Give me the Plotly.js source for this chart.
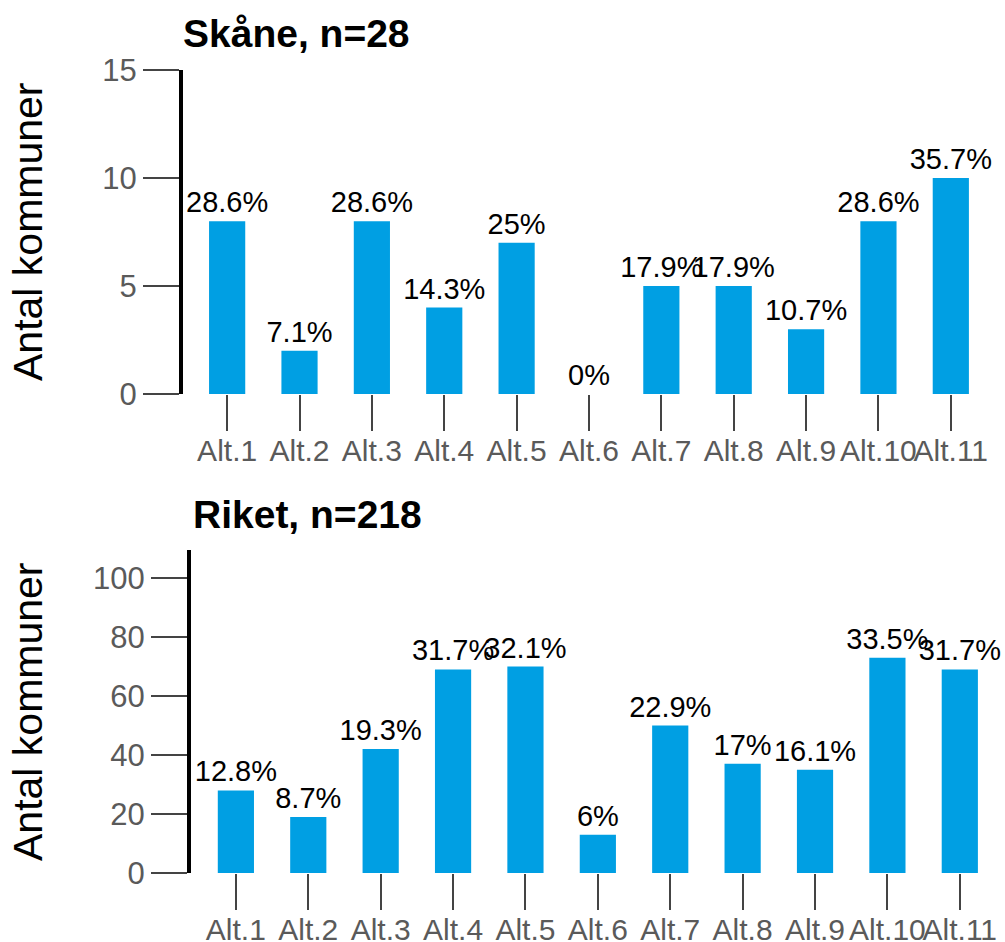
<!DOCTYPE html>
<html>
<head>
<meta charset="utf-8">
<script src="https://cdn.plot.ly/plotly-3.0.1.min.js"></script>
<style>html,body{margin:0;padding:0;background:#fff;}#chart{width:1005px;height:942px;}</style>
</head>
<body>
<div id="chart"></div>
<script>
const categories = ["Alt.1","Alt.2","Alt.3","Alt.4","Alt.5","Alt.6","Alt.7","Alt.8","Alt.9","Alt.10","Alt.11"];
const skaneCounts = [8, 2, 8, 4, 7, 0, 5, 5, 3, 8, 10];
const skaneLabels = ["28.6%","7.1%","28.6%","14.3%","25%","0%","17.9%","17.9%","10.7%","28.6%","35.7%"];
const riketCounts = [28, 19, 42, 69, 70, 13, 50, 37, 35, 73, 69];
const riketLabels = ["12.8%","8.7%","19.3%","31.7%","32.1%","6%","22.9%","17%","16.1%","33.5%","31.7%"];
const skaneTitle = "Skåne, n=28";
const riketTitle = "Riket, n=218";
const yTitle = "Antal kommuner";

const FONT = "Liberation Sans, Arial, sans-serif";
const BLUE = "#009fe3";
const W = 1005, H = 942;

function bar(x, y, text, xa, ya) {
  return {
    type: "bar", x: x, y: y, text: text, xaxis: xa, yaxis: ya,
    width: 0.5,
    marker: {color: BLUE, line: {width: 0}},
    textposition: "outside", textangle: 0, constraintext: "none", cliponaxis: false,
    textfont: {family: FONT, size: 29, color: "#000"},
    hoverinfo: "x+y", showlegend: false
  };
}

const data = [
  bar(categories, skaneCounts, skaneLabels, "x", "y"),
  bar(categories, riketCounts, riketLabels, "x2", "y2")
];

const xcommon = {
  type: "category", showgrid: false, zeroline: false, showline: false,
  ticks: "outside", ticklen: 36, tickwidth: 2, tickcolor: "#444", tickangle: 0,
  ticklabelstandoff: -6,
  tickfont: {family: FONT, size: 30, color: "#5a5a5a"}, fixedrange: true
};
const ycommon = {
  showgrid: false, zeroline: false, showline: true, linecolor: "#000", linewidth: 4,
  ticks: "outside", ticklen: 36, tickwidth: 2, tickcolor: "#444",
  tickfont: {family: FONT, size: 31, color: "#5a5a5a"}, fixedrange: true
};

const maxS = Math.max(...skaneCounts), maxR = Math.max(...riketCounts);

const layout = {
  width: W, height: H,
  margin: {l: 0, r: 0, t: 0, b: 0},
  paper_bgcolor: "#fff", plot_bgcolor: "#fff",
  font: {family: FONT},
  xaxis: Object.assign({}, xcommon, {domain: [183/W, 987/W], range: [-0.61, 10.5], anchor: "y"}),
  yaxis: Object.assign({}, ycommon, {domain: [1-394/H, 1-70/H], range: [0, maxS*1.5], tickvals: [0,5,10,15], anchor: "x"}),
  xaxis2: Object.assign({}, xcommon, {domain: [191/W, 996/W], range: [-0.62, 10.5], anchor: "y2"}),
  yaxis2: Object.assign({}, ycommon, {domain: [1-873/H, 1-550/H], range: [0, maxR*1.5], tickvals: [0,20,40,60,80,100], anchor: "x2"}),
  annotations: [
    {text: "<b>" + skaneTitle + "</b>", xref: "paper", yref: "paper", x: 181/W, y: 1-34/H,
     xanchor: "left", yanchor: "middle", showarrow: false, font: {family: FONT, size: 39, color: "#000"}},
    {text: "<b>" + riketTitle + "</b>", xref: "paper", yref: "paper", x: 191/W, y: 1-514/H,
     xanchor: "left", yanchor: "middle", showarrow: false, font: {family: FONT, size: 39, color: "#000"}},
    {text: yTitle, xref: "paper", yref: "paper", x: 28/W, y: 1-232/H, textangle: -90,
     xanchor: "center", yanchor: "middle", showarrow: false, font: {family: FONT, size: 41, color: "#000"}},
    {text: yTitle, xref: "paper", yref: "paper", x: 28/W, y: 1-712/H, textangle: -90,
     xanchor: "center", yanchor: "middle", showarrow: false, font: {family: FONT, size: 41, color: "#000"}}
  ]
};

Plotly.newPlot("chart", data, layout, {displayModeBar: false, staticPlot: true});
</script>
</body>
</html>
